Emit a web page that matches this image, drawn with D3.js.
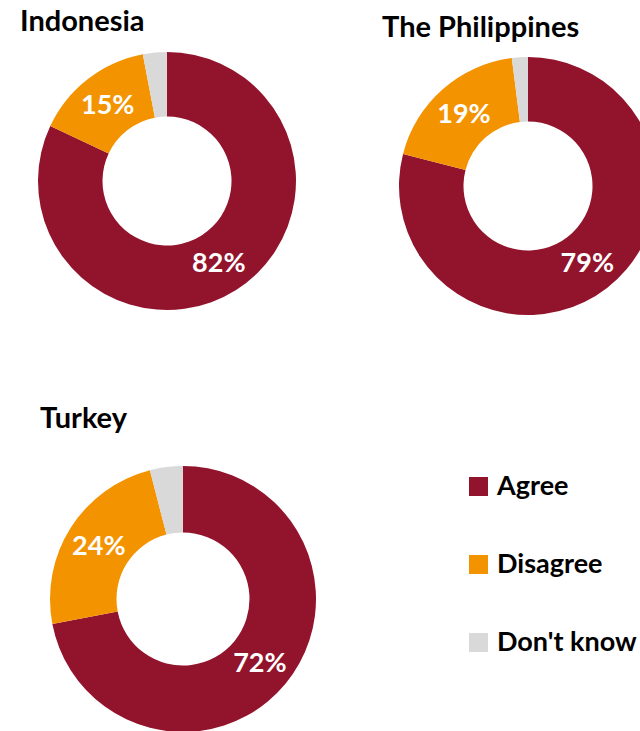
<!DOCTYPE html>
<html><head><meta charset="utf-8">
<script src="https://cdn.jsdelivr.net/npm/d3@7"></script>
<style>body{margin:0;background:#fff}svg{display:block}</style>
</head><body>
<script>
const countries = ["Indonesia", "The Philippines", "Turkey"];
const categories = ["Agree", "Disagree", "Don't know"];
const agree = [82, 79, 72];
const disagree = [15, 19, 24];
const dontKnow = [3, 2, 4];
const colors = ["#92132C", "#F49300", "#D9D9D9"];

const W = 640, H = 731;
const font = "Lato, 'Open Sans', sans-serif";
const svg = d3.select("body").append("svg").attr("width", W).attr("height", H);

const layout = [
  {cx: 167, cy: 181, r: 129, tx: 20, ty: 31},
  {cx: 528, cy: 186, r: 129, tx: 382, ty: 37},
  {cx: 183, cy: 599, r: 133, tx: 40, ty: 428}
];
const color = d3.scaleOrdinal().domain(categories).range(colors);
const pie = d3.pie().sort(null).value(d => d.v);

countries.forEach((c, i) => {
  const L = layout[i];
  const data = [
    {k: categories[0], v: agree[i]},
    {k: categories[1], v: disagree[i]},
    {k: categories[2], v: dontKnow[i]}
  ];
  const arc = d3.arc().innerRadius(L.r * 0.5).outerRadius(L.r);
  const g = svg.append("g").attr("transform", `translate(${L.cx},${L.cy})`);
  const arcs = pie(data);
  g.selectAll("path").data(arcs).join("path")
    .attr("d", arc).attr("fill", d => color(d.data.k));
  g.selectAll("text").data(arcs.filter(d => d.data.k !== "Don't know")).join("text")
    .attr("transform", d => `translate(${arc.centroid(d)})`)
    .attr("text-anchor", "middle").attr("dy", "0.36em")
    .attr("fill", "#fff").attr("font-family", font).attr("font-weight", "bold")
    .attr("font-size", 27)
    .text(d => d.data.v + "%");
  svg.append("text").attr("x", L.tx).attr("y", L.ty)
    .attr("font-family", font).attr("font-weight", "bold").attr("font-size", 29)
    .attr("fill", "#000").text(c);
});

const leg = svg.append("g");
categories.forEach((k, i) => {
  const y = 477 + i * 78;
  leg.append("rect").attr("x", 469).attr("y", y).attr("width", 19).attr("height", 19)
    .attr("fill", color(k));
  leg.append("text").attr("x", 497).attr("y", y + 18)
    .attr("font-family", font).attr("font-weight", "bold").attr("font-size", 27)
    .attr("fill", "#000").text(k);
});
</script>
</body></html>
